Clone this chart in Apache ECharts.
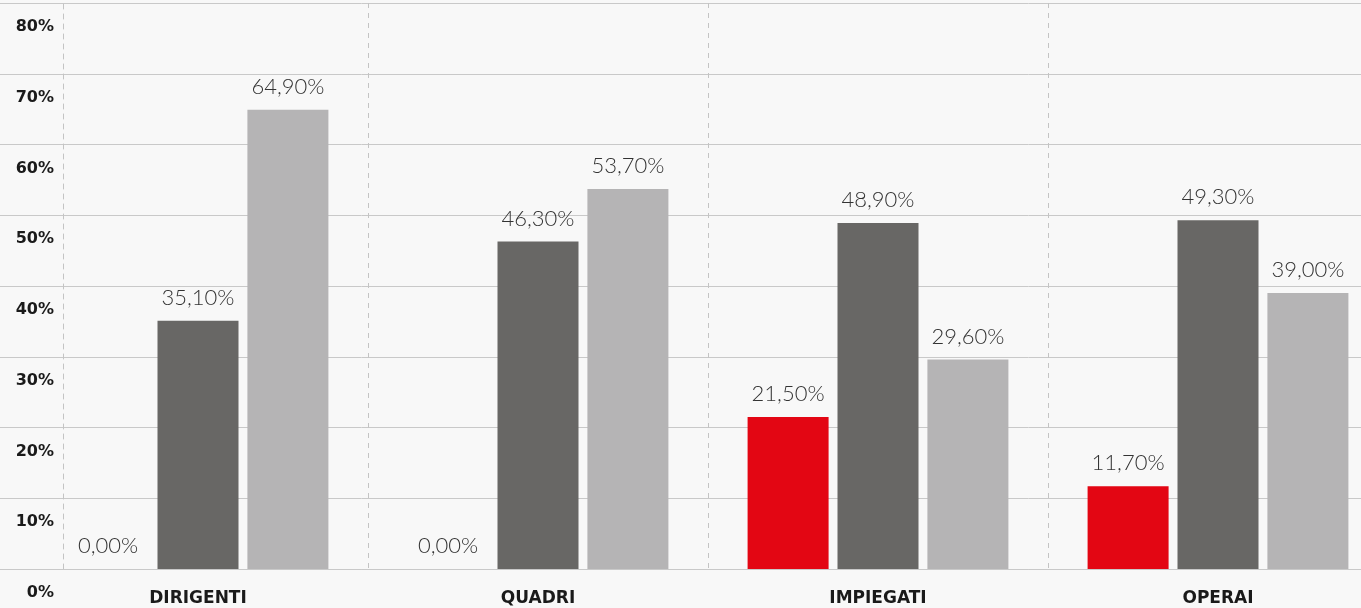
<!DOCTYPE html>
<html>
<head>
<meta charset="utf-8">
<script src="https://cdn.jsdelivr.net/npm/echarts@6/dist/echarts.min.js"></script>
<style>
html,body{margin:0;padding:0;background:#f8f8f8;}
#chart{width:1361px;height:608px;}
</style>
</head>
<body>
<div id="chart"></div>
<script>
const categories = ['DIRIGENTI', 'QUADRI', 'IMPIEGATI', 'OPERAI'];
const seriesRed = [0.0, 0.0, 21.5, 11.7];
const seriesDark = [35.1, 46.3, 48.9, 49.3];
const seriesLight = [64.9, 53.7, 29.6, 39.0];
const yTicks = { min: 0, max: 80, interval: 10 };

const fmt = v => v.toFixed(2).replace('.', ',') + '%';
const gridColor = '#c9c9c9';

const labelStyle = {
  show: true,
  position: 'top',
  distance: 12,
  fontFamily: 'Lato',
  fontWeight: 300,
  fontSize: 22,
  color: '#333333',
  formatter: p => fmt(p.value)
};

function bar(name, data, color) {
  return {
    name, type: 'bar', data,
    xAxisIndex: 0, yAxisIndex: 0,
    barWidth: 81, barGap: '11%',
    itemStyle: { color },
    label: labelStyle,
    animation: false
  };
}

const chart = echarts.init(document.getElementById('chart'), null, { renderer: 'canvas' });
chart.setOption({
  backgroundColor: '#f8f8f8',
  animation: false,
  grid: [
    { left: 28, width: 1360, top: 3, bottom: 39, containLabel: false, outerBoundsMode: 'none' },
    { left: 0, width: 28, top: 3, bottom: 39, containLabel: false, outerBoundsMode: 'none' }
  ],
  xAxis: [
    {
      type: 'category', data: categories, gridIndex: 0,
      boundaryGap: true,
      axisLine: { show: true, lineStyle: { color: gridColor, width: 1 } },
      axisTick: { show: false },
      axisLabel: {
        margin: 21,
        fontFamily: 'DejaVu Sans',
        fontWeight: 'bold',
        fontSize: 17,
        color: '#1a1a1a'
      },
      splitLine: {
        show: true, interval: 0,
        lineStyle: { type: [5, 5], width: 1, color: ['rgba(0,0,0,0)', '#c4c4c4', '#c4c4c4', '#c4c4c4', '#c4c4c4'] }
      }
    },
    { type: 'value', gridIndex: 1, min: 0, max: 1, show: false }
  ],
  yAxis: [
    {
      type: 'value', gridIndex: 0,
      min: yTicks.min, max: yTicks.max, interval: yTicks.interval,
      offset: -35,
      axisLine: { show: true, lineStyle: { type: [5, 5], color: '#c4c4c4', width: 1 } },
      axisTick: { show: false },
      axisLabel: {
        margin: 9,
        verticalAlign: 'top',
        padding: [16, 0, 0, 0],
        fontFamily: 'DejaVu Sans',
        fontWeight: 'bold',
        fontSize: 16,
        color: '#1a1a1a',
        formatter: v => v + '%'
      },
      splitLine: { show: true, lineStyle: { color: gridColor, width: 1 } }
    },
    {
      type: 'value', gridIndex: 1,
      min: yTicks.min, max: yTicks.max, interval: yTicks.interval,
      axisLine: { show: false }, axisTick: { show: false }, axisLabel: { show: false },
      splitLine: { show: true, lineStyle: { color: gridColor, width: 1 } }
    }
  ],
  series: [
    bar('Donne', seriesRed, '#e30613'),
    bar('Uomini', seriesDark, '#686765'),
    bar('Totale', seriesLight, '#b5b4b5')
  ]
});
</script>
</body>
</html>
